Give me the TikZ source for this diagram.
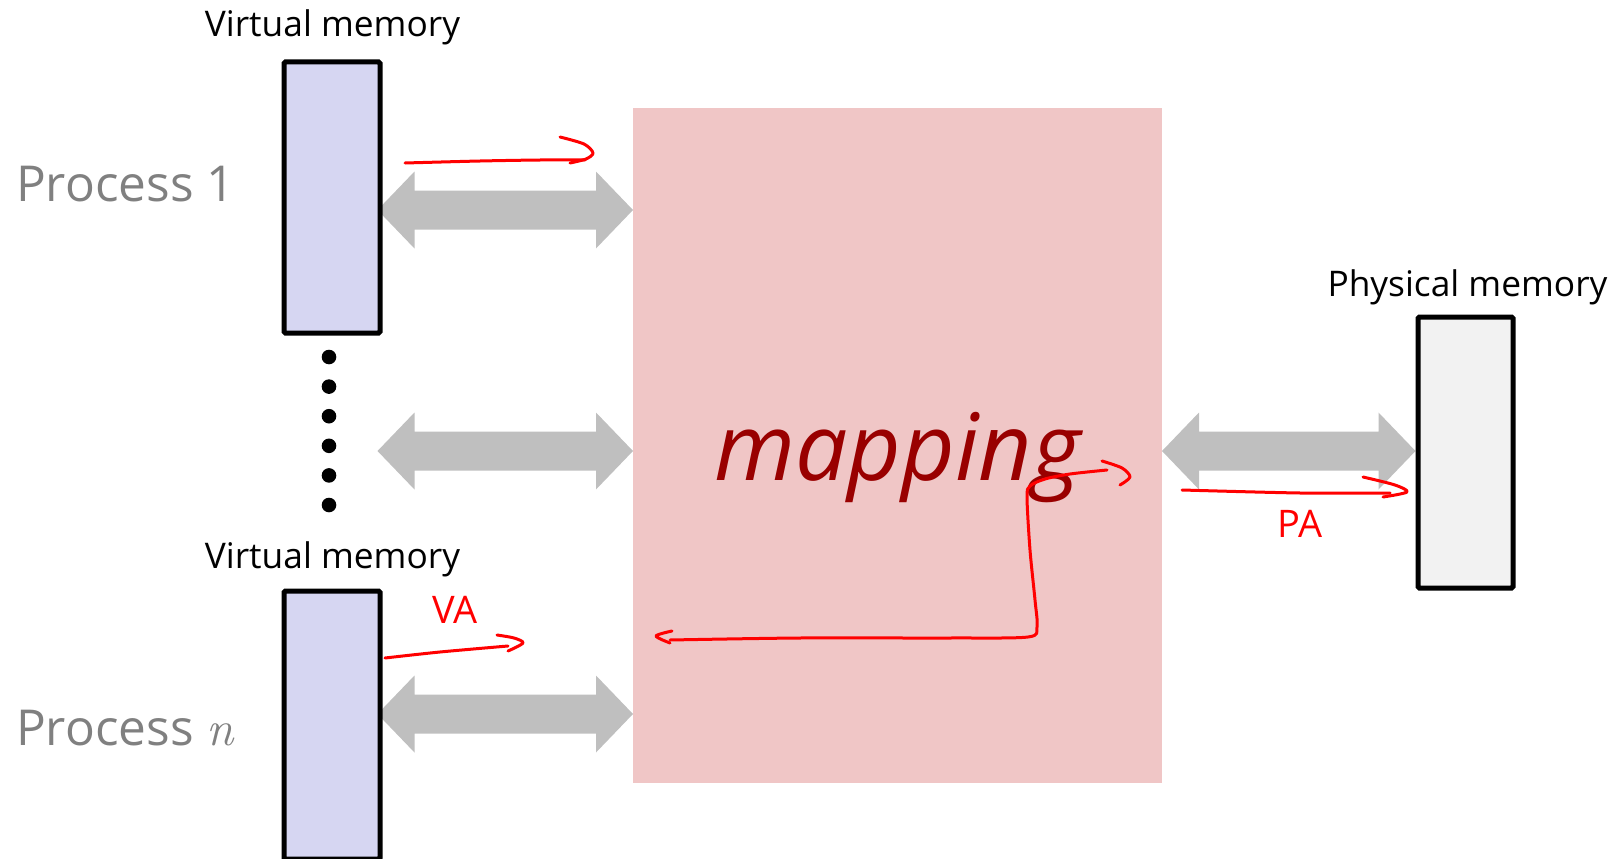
\documentclass[tikz,border=0pt]{standalone}
\usepackage{fontspec}
\setmainfont{Open Sans}
\usetikzlibrary{calc}
\definecolor{vmfill}{RGB}{214,214,242}
\definecolor{pmfill}{RGB}{242,242,242}
\definecolor{mapfill}{RGB}{240,198,198}
\definecolor{mapred}{RGB}{153,0,0}
\definecolor{arrgray}{RGB}{191,191,191}
\definecolor{procgray}{RGB}{128,128,128}
\definecolor{inkred}{RGB}{255,0,0}
\newcommand\garrow[2]{%
  \fill[arrgray] let \p1=(#1), \p2=(#2) in
    (\x1,\y1) -- (\x1+37pt,\y1+38.5pt) -- (\x1+37pt,\y1+19.5pt)
    -- (\x2-37pt,\y2+19.5pt) -- (\x2-37pt,\y2+38.5pt) -- (\x2,\y2)
    -- (\x2-37pt,\y2-38.5pt) -- (\x2-37pt,\y2-19.5pt)
    -- (\x1+37pt,\y1-19.5pt) -- (\x1+37pt,\y1-38.5pt) -- cycle;}
\begin{document}
\begin{tikzpicture}[x=1pt,y=-1pt,
  membox/.style={draw=black, line width=5pt, rounded corners=1.5pt, inner sep=0pt, anchor=north west},
  memlabel/.style={anchor=base, inner sep=0pt, font=\fontsize{35.3}{42}\selectfont},
  proclabel/.style={anchor=base west, inner sep=0pt, text=procgray, font=\fontsize{49.5}{58}\selectfont},
  vdot/.style={circle, fill=black, inner sep=0pt, minimum size=14.6pt},
  inkline/.style={draw=inkred, line width=3pt, line cap=round, line join=round},
  inktext/.style={anchor=base, inner sep=0pt, text=inkred, font=\fontsize{38}{44}\selectfont}]
\useasboundingbox (0,0) rectangle (1618,859);
% mapping block
\node[fill=mapfill, anchor=north west, inner sep=0pt, minimum width=529pt, minimum height=675pt] (map) at (633,108) {};
% coordinates for the double arrows
\coordinate (a1l) at (377.5,210);
\coordinate (a2l) at (377.5,451);
\coordinate (a3l) at (377.5,714);
\coordinate (a1r) at (633,210);
\coordinate (a2r) at (633,451);
\coordinate (a3r) at (633,714);
\coordinate (a4l) at (1162,451);
\coordinate (a4r) at (1415.5,451);
\garrow{a1l}{a1r}
\garrow{a2l}{a2r}
\garrow{a3l}{a3r}
\garrow{a4l}{a4r}
% memory boxes
\node[membox, fill=vmfill, minimum width=96pt, minimum height=271pt] (vm1) at (281.5,59.5) {};
\node[membox, fill=vmfill, minimum width=96pt, minimum height=268pt] (vmn) at (281.5,588.5) {};
\node[membox, fill=pmfill, minimum width=95pt, minimum height=271pt] (pm) at (1415.5,314.5) {};
% labels
\node[memlabel] (vm1lab) at (332.5,37) {Virtual memory};
\node[memlabel] (vmnlab) at (332.5,568) {Virtual memory};
\node[memlabel] (pmlab) at (1467.5,296) {Physical memory};
\node[proclabel] (p1lab) at (16,201) {Process 1};
\node[proclabel] (pnlab) at (16,745) {Process {\fontfamily{lmr}\selectfont\itshape n}};
\node[anchor=base, inner sep=0pt, text=mapred, font=\fontsize{92.9}{100}\selectfont\itshape] (maplab) at (897.5,480) {mapping};
% dots
\foreach \k in {0,...,5} {\node[vdot] (d\k) at (329,357+29.6*\k) {};}
% handwritten annotations
\draw[inkline] plot[smooth] coordinates {(405,163) (480,161) (540,160) (585,160)};
\draw[inkline] plot[smooth] coordinates {(560,137) (584,144) (593,153) (586,159) (570,163)};
\draw[inkline] plot[smooth] coordinates {(385,658) (440,652) (508,646)};
\draw[inkline] plot[smooth] coordinates {(497,635) (514,638) (523,643) (508,651)};
\node[inktext] (va) at (455,623) {VA};
\draw[inkline] plot[smooth] coordinates {(1107,470) (1070,474) (1045,479) (1030,486) (1027,497) (1030,550) (1035,600) (1037,627) (1028,637) (950,638) (800,638) (670,640)};
\draw[inkline] plot[smooth] coordinates {(1102,461) (1122,468) (1130,477) (1120,485)};
\draw[inkline] plot[smooth] coordinates {(672,631) (656,636) (670,643)};
\draw[inkline] plot[smooth] coordinates {(1182,490) (1300,493) (1390,493)};
\draw[inkline] plot[smooth] coordinates {(1363,477) (1395,485) (1407,492) (1383,497)};
\node[inktext] (pa) at (1300,537) {PA};
\end{tikzpicture}
\end{document}
